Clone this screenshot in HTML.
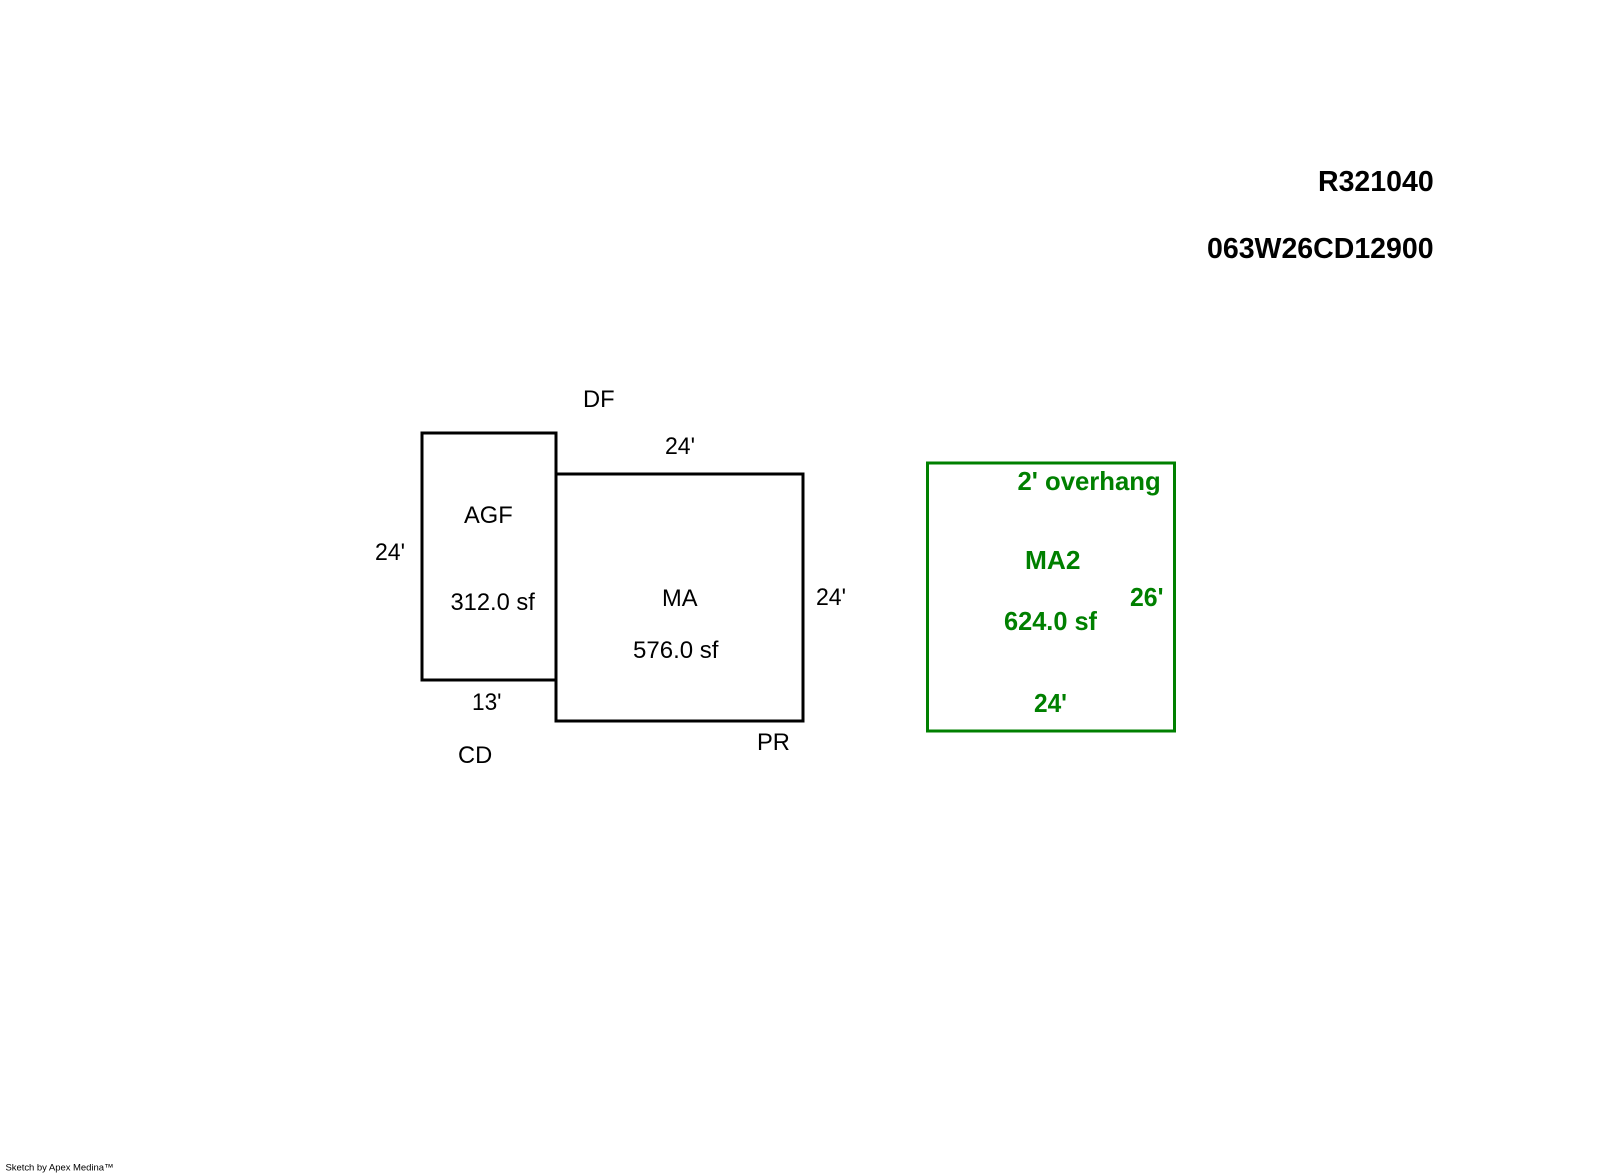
<!DOCTYPE html>
<html>
<head>
<meta charset="utf-8">
<title>Sketch</title>
<style>
html,body{margin:0;padding:0;background:#fff;width:1600px;height:1174px;overflow:hidden}
svg{display:block}
text{font-family:"Liberation Sans",Arial,sans-serif}
.b{font-size:23.7px;fill:#000}
.g{font-size:25.7px;font-weight:bold;fill:#008000}
.h{font-size:28.5px;font-weight:bold;fill:#000}
</style>
</head>
<body>
<svg width="1600" height="1174" viewBox="0 0 1600 1174" xmlns="http://www.w3.org/2000/svg">
<rect width="1600" height="1174" fill="#fff"/>
<g fill="none" stroke="#000" stroke-width="3">
<rect x="422" y="433" width="134" height="247"/>
<rect x="556" y="474" width="247" height="247"/>
</g>
<rect x="927.5" y="463" width="247" height="268" fill="none" stroke="#008000" stroke-width="3"/>
<text class="h" x="1318" y="191">R321040</text>
<text class="h" x="1207" y="258">063W26CD12900</text>
<text class="b" x="583" y="407">DF</text>
<text class="b" x="665" y="454" textLength="30" lengthAdjust="spacingAndGlyphs">24'</text>
<text class="b" x="464" y="523">AGF</text>
<text class="b" x="375" y="560" textLength="30" lengthAdjust="spacingAndGlyphs">24'</text>
<text class="b" x="450.5" y="610">312.0 sf</text>
<text class="b" x="662" y="606">MA</text>
<text class="b" x="633" y="658" textLength="85.5" lengthAdjust="spacingAndGlyphs">576.0 sf</text>
<text class="b" x="816" y="605" textLength="30" lengthAdjust="spacingAndGlyphs">24'</text>
<text class="b" x="472" y="710" textLength="29.5" lengthAdjust="spacingAndGlyphs">13'</text>
<text class="b" x="757" y="750">PR</text>
<text class="b" x="458" y="763">CD</text>
<text class="g" x="1017.5" y="490">2' overhang</text>
<text class="g" x="1025" y="569" textLength="55.5" lengthAdjust="spacingAndGlyphs">MA2</text>
<text class="g" x="1130" y="606" textLength="33.5" lengthAdjust="spacingAndGlyphs">26'</text>
<text class="g" x="1004" y="630" textLength="93" lengthAdjust="spacingAndGlyphs">624.0 sf</text>
<text class="g" x="1034" y="712" textLength="33" lengthAdjust="spacingAndGlyphs">24'</text>
<text x="5.5" y="1170.5" font-size="9.5px" fill="#000" textLength="108" lengthAdjust="spacing">Sketch by Apex Medina™</text>
</svg>
</body>
</html>
